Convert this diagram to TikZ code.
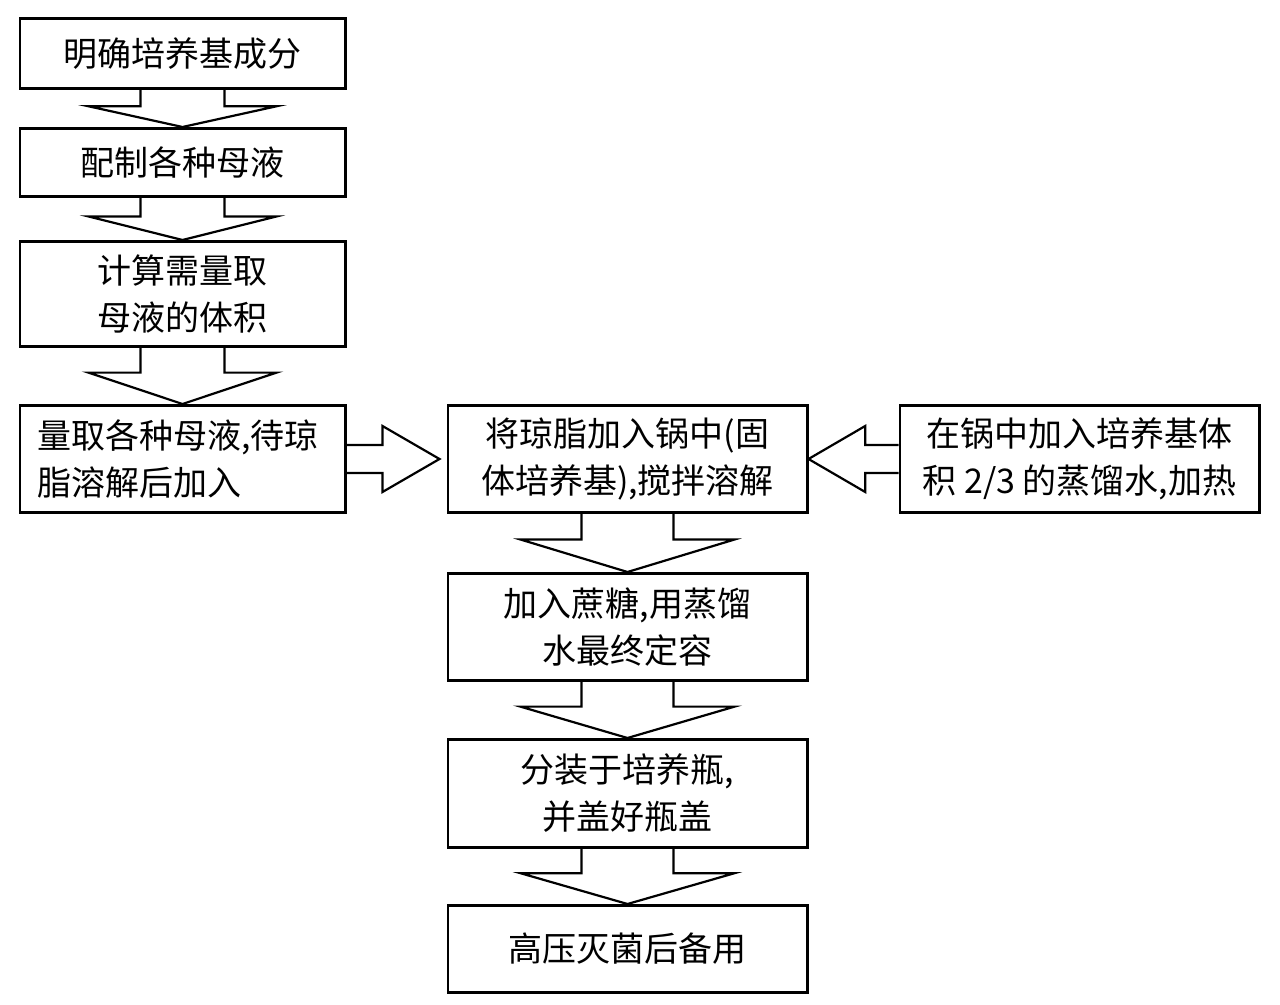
\documentclass[tikz,border=0pt]{standalone}
\usepackage{fontspec}
\newfontfamily\cjk{Noto Sans CJK SC}
\usetikzlibrary{positioning}
\usetikzlibrary{calc}

\begin{document}
\begin{tikzpicture}[box/.style={draw,line width=1.4pt,align=center,inner sep=0pt,
                      font=\cjk\fontsize{17pt}{23.5pt}\selectfont},
                    left box/.style={box,minimum width=162.6pt},
                    mid box/.style={box,minimum width=179.6pt},
                    blk down/.style 2 args={line width=1.1pt,to path={
                      let \p1=(\tikztostart.south), \p2=(\tikztotarget.north),
                          \n1={\y1-0.44*(\y1-\y2)} in
                      (\x1-#1,\y1) -- (\x1-#1,\n1) -- (\x1-#2,\n1) -- (\x1,\y2)
                      -- (\x1+#2,\n1) -- (\x1+#1,\n1) -- (\x1+#1,\y1)}},
                    blk right/.style 2 args={line width=1.1pt,to path={
                      let \p1=(\tikztostart.east), \p2=(\tikztotarget.west),
                          \n1={\x1+0.36*(\x2-\x1)} in
                      (\x1,\y1+#1) -- (\n1,\y1+#1) -- (\n1,\y1+#2) -- (\x2-3.5pt,\y1)
                      -- (\n1,\y1-#2) -- (\n1,\y1-#1) -- (\x1,\y1-#1)}},
                    blk left/.style 2 args={line width=1.1pt,to path={
                      let \p1=(\tikztostart.west), \p2=(\tikztotarget.east),
                          \n1={\x1-0.37*(\x1-\x2)} in
                      (\x1,\y1+#1) -- (\n1,\y1+#1) -- (\n1,\y1+#2) -- (\x2,\y1)
                      -- (\n1,\y1-#2) -- (\n1,\y1-#1) -- (\x1,\y1-#1)}}]

  \useasboundingbox (0,0) rectangle (640pt,-502.5pt);

  \node[left box,minimum height=35.1pt] (media) at (91.25pt,-26.75pt) {明确培养基成分};
  \node[left box,minimum height=34.1pt] (stock) [below=18.5pt of media] {配制各种母液};
  \node[left box,minimum height=52.6pt] (volume) [below=21pt of stock] {计算需量取\\母液的体积};
  \node[left box,align=left,text width=145.2pt,inner xsep=8.7pt,minimum height=53.6pt]
    (measure) [below=28pt of volume] {量取各种母液,待琼\\脂溶解后加入};
  \node[mid box,minimum height=53.6pt] (agar) [right=50pt of measure] {将琼脂加入锅中(固\\体培养基),搅拌溶解};
  \node[mid box,minimum height=53.6pt] (water) [right=45pt of agar] {在锅中加入培养基体\\积 2/3 的蒸馏水,加热};
  \node[mid box,minimum height=53.6pt] (sucrose) [below=29pt of agar] {加入蔗糖,用蒸馏\\水最终定容};
  \node[mid box,minimum height=54.1pt] (dispense) [below=28pt of sucrose] {分装于培养瓶,\\并盖好瓶盖};
  \node[mid box,minimum height=43.6pt] (sterilize) [below=27.5pt of dispense] {高压灭菌后备用};

  \path
    (media) edge[blk down={21pt}{47pt}] (stock)
    (stock) edge[blk down={21pt}{47pt}] (volume)
    (volume) edge[blk down={21pt}{47pt}] (measure)
    (measure) edge[blk right={7pt}{16.5pt}] (agar)
    (water) edge[blk left={7pt}{16.5pt}] (agar)
    (agar) edge[blk down={23pt}{53.5pt}] (sucrose)
    (sucrose) edge[blk down={23pt}{53.5pt}] (dispense)
    (dispense) edge[blk down={23pt}{53.5pt}] (sterilize)
    ;

\end{tikzpicture}
\end{document}
